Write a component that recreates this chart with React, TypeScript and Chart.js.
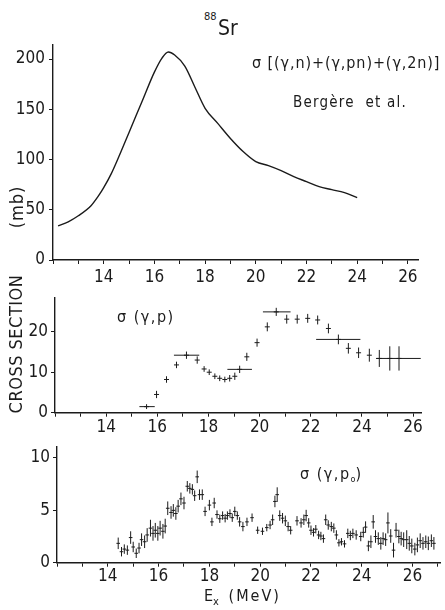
import React, { useEffect, useRef } from "react";
import { Chart, registerables } from "chart.js";

Chart.register(...registerables);

const INK = "#1b1b1b";
const FONT = "'Liberation Sans Narrow', 'DejaVu Sans Condensed', 'Liberation Sans', sans-serif";

// ---- Panel 1: sigma[(g,n)+(g,pn)+(g,2n)] (Bergère et al.) ----
const sumEnergy = [12.2, 12.6, 13.0, 13.5, 13.8, 14.0, 14.3, 14.6, 15.0, 15.5, 16.0, 16.3, 16.55, 16.8, 17.2, 17.6, 18.0, 18.5, 19.0, 19.5, 20.0, 20.5, 21.0, 21.5, 22.0, 22.5, 23.0, 23.5, 24.0];
const sumSigma = [34, 38, 44, 54, 64, 72, 86, 103, 127, 157, 187, 201, 207, 204, 193, 172, 151, 136, 121, 108, 98, 94, 89, 83, 78, 73, 70, 67, 62];

// ---- Panel 2: sigma(g,p) ----
const pEnergy = [15.58, 15.97, 16.36, 16.75, 17.14, 17.56, 17.83, 18.03, 18.25, 18.44, 18.64, 18.83, 19.03, 19.22, 19.5, 19.9, 20.3, 20.65, 21.06, 21.47, 21.88, 22.27, 22.69, 23.08, 23.47, 23.87, 24.29, 24.68, 25.09, 25.45];
const pSigma = [1.5, 4.5, 8.2, 11.8, 14.2, 13.0, 10.8, 10.0, 9.0, 8.5, 8.2, 8.5, 9.0, 10.7, 13.8, 17.3, 21.2, 24.9, 23.1, 23.1, 23.3, 22.9, 20.8, 18.1, 15.9, 14.8, 14.2, 13.4, 13.4, 13.4];
const pErr = [0.6, 0.9, 0.8, 0.8, 0.9, 0.9, 0.7, 0.7, 0.7, 0.7, 0.7, 0.8, 0.9, 0.9, 1.0, 1.0, 1.1, 1.0, 1.1, 1.1, 1.1, 1.1, 1.2, 1.2, 1.3, 1.3, 1.6, 2.1, 3.0, 3.0];
const pBinLow = [15.3, null, null, null, 16.65, null, null, null, null, null, null, null, null, 18.74, null, null, null, 20.13, null, null, null, null, null, 22.21, null, null, null, null, null, 24.55];
const pBinHigh = [15.9, null, null, null, 17.64, null, null, null, null, null, null, null, null, 19.7, null, null, null, 21.21, null, null, null, null, null, 23.94, null, null, null, null, null, 26.3];

// ---- Panel 3: sigma(g,p0) ----
const p0Energy = [14.41, 14.54, 14.65, 14.77, 14.9, 15.0, 15.12, 15.23, 15.33, 15.45, 15.55, 15.68, 15.78, 15.87, 15.97, 16.06, 16.17, 16.26, 16.36, 16.49, 16.58, 16.68, 16.77, 16.88, 17.0, 17.13, 17.23, 17.33, 17.42, 17.52, 17.61, 17.72, 17.83, 18.0, 18.1, 18.19, 18.3, 18.41, 18.52, 18.62, 18.71, 18.81, 18.9, 19.0, 19.1, 19.19, 19.32, 19.48, 19.68, 19.9, 20.09, 20.26, 20.39, 20.49, 20.58, 20.67, 20.77, 20.88, 20.99, 21.1, 21.2, 21.45, 21.61, 21.72, 21.81, 21.91, 22.0, 22.1, 22.19, 22.3, 22.39, 22.49, 22.58, 22.68, 22.8, 22.9, 23.0, 23.1, 23.2, 23.32, 23.45, 23.55, 23.65, 23.78, 23.96, 24.06, 24.15, 24.26, 24.36, 24.45, 24.54, 24.65, 24.75, 24.84, 24.94, 25.03, 25.14, 25.25, 25.35, 25.46, 25.55, 25.65, 25.77, 25.87, 25.97, 26.09, 26.19, 26.3, 26.41, 26.52, 26.62, 26.74, 26.84];
const p0Sigma = [1.85, 1.05, 1.3, 1.2, 2.4, 1.5, 0.9, 1.4, 2.2, 2.0, 2.65, 3.3, 2.8, 3.1, 2.8, 3.3, 3.0, 3.5, 5.2, 4.8, 5.0, 4.7, 5.4, 6.1, 5.7, 7.3, 7.1, 7.0, 6.4, 8.2, 6.5, 6.5, 4.9, 5.5, 3.9, 5.7, 4.6, 4.2, 4.5, 4.25, 4.5, 4.7, 4.3, 4.9, 4.5, 3.9, 3.45, 3.9, 4.3, 3.1, 3.0, 3.35, 3.6, 4.1, 5.85, 6.5, 4.5, 4.25, 4.0, 3.45, 3.1, 4.0, 3.8, 4.1, 4.5, 3.8, 3.1, 2.9, 3.2, 2.65, 2.55, 2.3, 4.1, 3.6, 3.45, 3.3, 2.65, 1.9, 2.0, 1.8, 2.8, 2.6, 2.8, 2.65, 2.5, 2.9, 3.4, 1.6, 2.0, 3.9, 2.5, 2.3, 1.85, 2.3, 2.2, 3.8, 2.55, 1.2, 3.1, 2.5, 2.3, 2.2, 2.2, 1.85, 1.6, 1.3, 1.7, 2.1, 1.85, 2.0, 1.85, 2.1, 1.85];
const p0Err = [0.55, 0.45, 0.45, 0.45, 0.6, 0.5, 0.45, 0.5, 0.6, 0.6, 0.65, 0.8, 0.7, 0.7, 0.7, 0.7, 0.7, 0.7, 0.65, 0.6, 0.6, 0.6, 0.6, 0.6, 0.6, 0.5, 0.5, 0.5, 0.5, 0.6, 0.5, 0.5, 0.45, 0.5, 0.4, 0.5, 0.4, 0.4, 0.4, 0.4, 0.4, 0.4, 0.4, 0.45, 0.4, 0.45, 0.45, 0.4, 0.4, 0.35, 0.35, 0.35, 0.4, 0.5, 0.55, 0.7, 0.5, 0.5, 0.5, 0.45, 0.4, 0.45, 0.45, 0.5, 0.55, 0.45, 0.45, 0.4, 0.4, 0.4, 0.4, 0.4, 0.5, 0.45, 0.45, 0.45, 0.45, 0.35, 0.35, 0.35, 0.45, 0.45, 0.45, 0.45, 0.45, 0.5, 0.55, 0.5, 0.6, 0.65, 0.6, 0.6, 0.6, 0.6, 0.6, 1.0, 0.65, 0.7, 0.7, 0.65, 0.65, 0.7, 0.9, 0.7, 0.7, 0.6, 0.7, 0.7, 0.6, 0.6, 0.65, 0.6, 0.6];

const errorBarPlugin = {
  id: "errorBars",
  afterDatasetsDraw(chart: any) {
    const ctx = chart.ctx;
    chart.data.datasets.forEach((ds: any, i: number) => {
      if (!ds.yErr && !ds.xLow) return;
      const meta = chart.getDatasetMeta(i);
      const xs = chart.scales[meta.xAxisID];
      const ys = chart.scales[meta.yAxisID];
      ctx.save();
      ctx.strokeStyle = INK;
      ctx.lineWidth = ds.errWidth || 1;
      ds.data.forEach((p: any, j: number) => {
        const px = xs.getPixelForValue(p.x);
        const py = ys.getPixelForValue(p.y);
        if (ds.yErr && ds.yErr[j]) {
          ctx.beginPath();
          ctx.moveTo(px, ys.getPixelForValue(p.y - ds.yErr[j]));
          ctx.lineTo(px, ys.getPixelForValue(p.y + ds.yErr[j]));
          ctx.stroke();
        }
        if (ds.xLow && ds.xLow[j] != null && ds.xHigh[j] != null) {
          ctx.beginPath();
          ctx.moveTo(xs.getPixelForValue(ds.xLow[j]), py);
          ctx.lineTo(xs.getPixelForValue(ds.xHigh[j]), py);
          ctx.stroke();
        }
      });
      ctx.restore();
    });
  },
};

function panelConfig(o: any): any {
  const gridOpts = {
    display: true,
    drawOnChartArea: false,
    drawTicks: true,
    tickLength: 4,
    color: INK,
    lineWidth: 1,
  };
  return {
    type: "scatter",
    data: { datasets: o.datasets },
    options: {
      responsive: false,
      animation: false,
      devicePixelRatio: 1,
      layout: { padding: { top: o.padTop, right: o.padRight, left: 0, bottom: 0 } },
      plugins: { legend: { display: false }, tooltip: { enabled: false }, title: { display: false } },
      scales: {
        x: {
          type: "linear",
          min: o.xMin,
          max: o.xMax,
          afterFit: (s: any) => {
            s.height = o.xHeight;
          },
          ticks: {
            stepSize: 1,
            includeBounds: false,
            autoSkip: false,
            maxRotation: 0,
            padding: o.xLabelPad,
            color: INK,
            font: { family: FONT, size: 17 },
            callback: (v: number) => (v >= 14 && v % 2 === 0 ? String(v) : ""),
          },
          grid: gridOpts,
          border: { display: true, color: INK, width: 1.4 },
        },
        y: {
          type: "linear",
          min: 0,
          max: o.yMax,
          afterFit: (s: any) => {
            s.width = o.yWidth;
          },
          ticks: {
            stepSize: o.yStep,
            includeBounds: false,
            padding: o.yLabelPad,
            color: INK,
            font: { family: FONT, size: 17 },
            callback: (v: number) => String(v),
          },
          grid: gridOpts,
          border: { display: true, color: INK, width: 1.4 },
        },
      },
    },
    plugins: [errorBarPlugin],
  };
}

const abs = (style: any) => ({ position: "absolute", whiteSpace: "nowrap", lineHeight: 1, ...style });

export default function App() {
  const r1 = useRef<HTMLCanvasElement>(null);
  const r2 = useRef<HTMLCanvasElement>(null);
  const r3 = useRef<HTMLCanvasElement>(null);

  useEffect(() => {
    const c1 = new Chart(
      r1.current as HTMLCanvasElement,
      panelConfig({
        xMin: 12, xMax: 26.4, yMax: 214, yStep: 50,
        yWidth: 53, xHeight: 30, padTop: 15, padRight: 27,
        xLabelPad: 3, yLabelPad: 4,
        datasets: [
          {
            data: sumEnergy.map((x, i) => ({ x, y: sumSigma[i] })),
            showLine: true,
            cubicInterpolationMode: "monotone",
            borderColor: INK,
            borderWidth: 1.4,
            pointRadius: 0,
            fill: false,
          },
        ],
      })
    );
    const c2 = new Chart(
      r2.current as HTMLCanvasElement,
      panelConfig({
        xMin: 12, xMax: 26.31, yMax: 28.5, yStep: 10,
        yWidth: 55, xHeight: 27.3, padTop: 17.3, padRight: 24,
        xLabelPad: 1, yLabelPad: 3,
        datasets: [
          {
            data: pEnergy.map((x, i) => ({ x, y: pSigma[i] })),
            yErr: pErr,
            xLow: pBinLow,
            xHigh: pBinHigh,
            errWidth: 1,
            pointStyle: "line",
            pointRadius: 2.5,
            borderColor: INK,
            borderWidth: 1,
          },
        ],
      })
    );
    const c3 = new Chart(
      r3.current as HTMLCanvasElement,
      panelConfig({
        xMin: 12, xMax: 27.08, yMax: 11.05, yStep: 5,
        yWidth: 57, xHeight: 47.3, padTop: 17, padRight: 0,
        xLabelPad: 0, yLabelPad: 3,
        datasets: [
          {
            data: p0Energy.map((x, i) => ({ x, y: p0Sigma[i] })),
            yErr: p0Err,
            errWidth: 1,
            pointStyle: "line",
            pointRadius: 1.8,
            borderColor: INK,
            borderWidth: 1,
          },
        ],
      })
    );
    return () => {
      c1.destroy();
      c2.destroy();
      c3.destroy();
    };
  }, []);

  return (
    <div
      style={{
        position: "fixed",
        left: 0,
        top: 0,
        width: 445,
        height: 610,
        background: "#fff",
        overflow: "hidden",
        fontFamily: FONT,
        color: INK,
      }}
    >
      <canvas ref={r1} width={445} height={260} style={{ position: "absolute", left: 0, top: 30 }} />
      <canvas ref={r2} width={445} height={160} style={{ position: "absolute", left: 0, top: 280 }} />
      <canvas ref={r3} width={445} height={180} style={{ position: "absolute", left: 0, top: 430 }} />

      <div style={abs({ left: 204, top: 11, fontSize: 11 })}>88</div>
      <div style={abs({ left: 218, top: 17.5, fontSize: 21 })}>Sr</div>

      <div style={abs({ left: 252, top: 54.5, fontSize: 16, letterSpacing: 0.9 })}>σ [(γ,n)+(γ,pn)+(γ,2n)]</div>
      <div style={abs({ left: 293, top: 94.8, fontSize: 15, letterSpacing: 1.2 })}>Bergère&nbsp; et al.</div>

      <div style={abs({ left: 117, top: 308.5, fontSize: 16, letterSpacing: 1.5 })}>σ (γ,p)</div>
      <div style={abs({ left: 300, top: 466, fontSize: 16, letterSpacing: 1.5 })}>
        σ (γ,p<span style={{ fontSize: 9, verticalAlign: "-3px", letterSpacing: 0 }}>o</span>)
      </div>

      <div style={abs({ left: 204, top: 588, fontSize: 16 })}>
        E<span style={{ fontSize: 11, verticalAlign: "-4px", marginRight: 3 }}>x</span>
        <span style={{ letterSpacing: 2 }}> (MeV)</span>
      </div>

      <div style={abs({ left: 16, top: 343.5, fontSize: 18, transform: "translate(-50%, -50%) rotate(-90deg)", letterSpacing: 0.5 })}>
        CROSS SECTION
      </div>
      <div style={abs({ left: 17, top: 207, fontSize: 18, transform: "translate(-50%, -50%) rotate(-90deg)", letterSpacing: 1 })}>
        (mb)
      </div>
    </div>
  );
}
